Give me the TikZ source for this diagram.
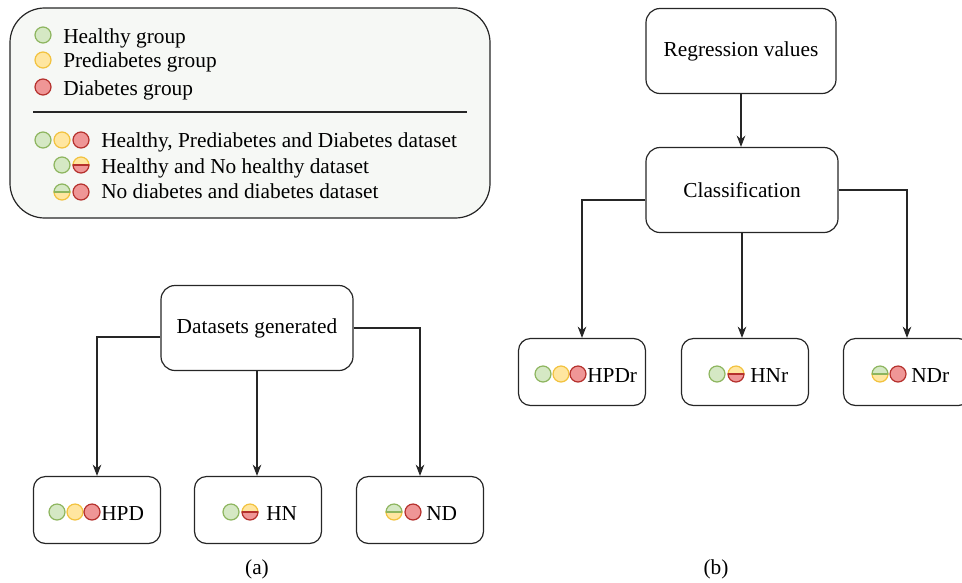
\documentclass[tikz,border=0pt]{standalone}
\usepackage{fontspec}
\setmainfont{Liberation Serif}
\usetikzlibrary{arrows.meta, positioning, calc}

\definecolor{greenF}{HTML}{D5E8C4}
\definecolor{greenD}{HTML}{8DB55E}
\definecolor{yellowF}{HTML}{FFE6A0}
\definecolor{yellowD}{HTML}{F2C23E}
\definecolor{redF}{HTML}{EF9696}
\definecolor{redD}{HTML}{B5302C}
\definecolor{legendF}{HTML}{F6F8F5}
\definecolor{boxD}{HTML}{262626}

% one coloured dot, a half-and-half dot
\newcommand{\fulldot}[3]{\filldraw[fill=#3F, draw=#3D, line width=0.9pt] (#1,#2) circle[radius=6pt];}
\newcommand{\splitdot}[5]{%
  \filldraw[fill=#3F, draw=#3D, line width=0.9pt] (#1,#2) ++(-6pt,0) arc[start angle=180, end angle=0, radius=6pt] -- cycle;
  \filldraw[fill=#4F, draw=#4D, line width=0.9pt] (#1,#2) ++(-6pt,0) arc[start angle=180, end angle=360, radius=6pt] -- cycle;
  \draw[#5D, line width=1.2pt] (#1,#2) ++(-6pt,0) -- ++(12pt,0);}

\begin{document}
\begin{tikzpicture}[
    x=0.75pt, y=-0.75pt,
    font=\fontsize{16}{19}\selectfont,
    legend/.style={rectangle, rounded corners=26pt, draw=boxD, fill=legendF, line width=0.9pt, minimum width=360pt, minimum height=157.5pt},
    stage/.style={rectangle, rounded corners=10.5pt, draw=boxD, line width=0.9pt, minimum width=144pt, minimum height=63.75pt, text centered},
    result/.style={rectangle, rounded corners=9pt, draw=boxD, line width=0.9pt, minimum width=95.25pt, minimum height=50.25pt},
    lbl/.style={anchor=base west, inner sep=0pt},
    arrow/.style={line width=0.8pt, draw=boxD, -{Stealth[length=8.5pt, width=6.5pt]}}
]
    \useasboundingbox (0,0) rectangle (962,582);

    % legend
    \node (legend) [legend] at (250,113) {};
    \fulldot{43}{35}{green}  \node (lhealthy) [lbl] at (63,43) {Healthy group};
    \fulldot{43}{60}{yellow} \node (lpre) [lbl] at (63,67) {Prediabetes group};
    \fulldot{43}{87}{red}    \node (ldiab) [lbl] at (63,95) {Diabetes group};
    \draw[boxD, line width=0.8pt] (33,112) -- (467,112);
    \fulldot{43}{140}{green} \fulldot{62}{140}{yellow} \fulldot{81}{140}{red}
    \node (lhpd) [lbl] at (101,147) {Healthy, Prediabetes and Diabetes dataset};
    \fulldot{62}{165}{green} \splitdot{81}{165}{yellow}{red}{red}
    \node (lhn) [lbl] at (101,173) {Healthy and No healthy dataset};
    \splitdot{62}{192}{green}{yellow}{green} \fulldot{81}{192}{red}
    \node (lnd) [lbl] at (101,198) {No diabetes and diabetes dataset};

    % (a)
    \node (gen) [stage] at (257,328) {Datasets generated};
    \node (hpd) [result] at (97,510) {};
    \node (hn) [result] at (258,510) {};
    \node (nd) [result] at (420,510) {};
    \fulldot{57}{512}{green} \fulldot{75}{512}{yellow} \fulldot{92}{512}{red}
    \node (hpdtxt) [lbl] at (101,520) {HPD};
    \fulldot{231}{512}{green} \splitdot{250}{512}{yellow}{red}{red}
    \node (hntxt) [lbl] at (266,520) {HN};
    \splitdot{394}{512}{green}{yellow}{green} \fulldot{413}{512}{red}
    \node (ndtxt) [lbl] at (426,520) {ND};
    \draw [arrow] ([yshift=-6.75pt]gen.west) -| (hpd.north);
    \draw [arrow] (gen.south) -- (gen.south |- hn.north);
    \draw [arrow] (gen.east) -| (nd.north);
    \node (capa) at (257,569) {(a)};

    % (b)
    \node (reg) [stage, minimum width=142.5pt] at (741,51) {Regression values};
    \node (cls) [stage] at (742,190) {Classification};
    \node (hpdr) [result] at (582,372) {};
    \node (hnr) [result] at (745,372) {};
    \node (ndr) [result] at (907,372) {};
    \fulldot{543}{374}{green} \fulldot{561}{374}{yellow} \fulldot{578}{374}{red}
    \node (hpdrtxt) [lbl] at (587,382) {HPDr};
    \fulldot{717}{374}{green} \splitdot{736}{374}{yellow}{red}{red}
    \node (hnrtxt) [lbl] at (750,382) {HNr};
    \splitdot{880}{374}{green}{yellow}{green} \fulldot{898}{374}{red}
    \node (ndrtxt) [lbl] at (911,382) {NDr};
    \draw [arrow] (reg.south) -- (reg.south |- cls.north);
    \draw [arrow] ([yshift=-7.5pt]cls.west) -| (hpdr.north);
    \draw [arrow] (cls.south) -- (cls.south |- hnr.north);
    \draw [arrow] (cls.east) -| (ndr.north);
    \node (capb) at (716,569) {(b)};
\end{tikzpicture}
\end{document}
